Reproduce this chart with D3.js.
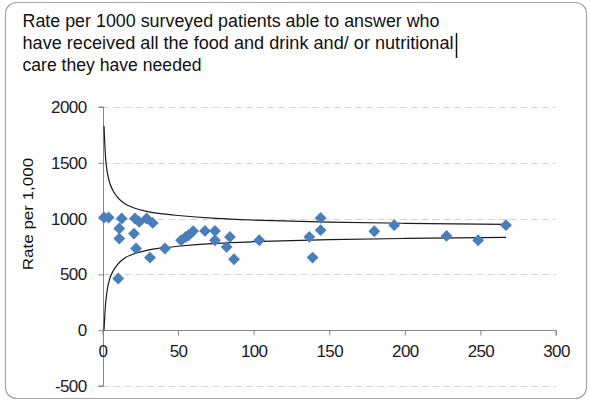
<!DOCTYPE html>
<html>
<head>
<meta charset="utf-8">
<script src="https://cdn.jsdelivr.net/npm/d3@7"></script>
<style>
  html, body { margin: 0; padding: 0; background: #fff; }
  svg { display: block; font-family: "Liberation Sans", Arial, sans-serif; }
</style>
</head>
<body>
<svg id="chart" width="590" height="404"></svg>
<script>
// ---- data ----
const titleLines = [
  "Rate per 1000 surveyed patients able to answer who",
  "have received all the food and drink and/ or nutritional",
  "care they have needed"
];
const yAxisTitle = "Rate per 1,000";
const xTicks = [0, 50, 100, 150, 200, 250, 300];
const yTicks = [-500, 0, 500, 1000, 1500, 2000];

// observed trusts: x = number of respondents, y = rate per 1,000
const pointX = [1, 4, 12.7, 11.1, 11.1, 21.5, 24.3, 29.2, 33.2, 20.8, 22.2, 31.4, 41.3,
                52, 55, 57, 60, 67.8, 74.4, 74.4, 82.1, 84.3, 87, 103.7, 10.4,
                136.8, 139, 144.3, 144.3, 179.8, 193, 227.6, 248.5, 266.9];
const pointY = [1010, 1010, 1001, 911, 821, 1001, 970, 1001, 961, 866, 732, 651, 732,
                806, 835, 851, 888, 890, 890, 806, 746, 836, 636, 806, 463,
                836, 651, 1006, 896, 887, 941, 845, 806, 941];

// control limit curves
const limitX =     [1,    2,    3,    4,    5,    7,    10,   15,   20,   30,   40,   50,   75,   100, 125, 150, 200, 250, 267];
const upperLimit = [1830, 1550, 1430, 1360, 1310, 1250, 1190, 1130, 1100, 1062, 1042, 1028, 1002, 987, 977, 968, 958, 951, 949];
const lowerLimit = [0,    230,  350,  420,  470,  530,  590,  650,  680,  718,  738,  752,  778,  793, 803, 812, 822, 829, 831];

// ---- drawing ----
const svg = d3.select("#chart");

// outer rounded frame
svg.append("rect")
  .attr("x", 5.5).attr("y", 2.5).attr("width", 581).attr("height", 396)
  .attr("rx", 11).attr("ry", 11)
  .attr("fill", "#fff").attr("stroke", "#a6a6a6").attr("stroke-width", 1.2);

// title
const titleWidths = [417, 431, 179];
const titleBase = [26.5, 48.5, 70.5];
titleLines.forEach((t, i) => {
  svg.append("text")
    .attr("x", 22.5).attr("y", titleBase[i])
    .attr("font-size", 17.5).attr("fill", "#111")
    .attr("textLength", titleWidths[i]).attr("lengthAdjust", "spacingAndGlyphs")
    .text(t);
});
// text cursor mark after line 2
svg.append("line")
  .attr("x1", 456.5).attr("x2", 456.5).attr("y1", 33).attr("y2", 58)
  .attr("stroke", "#111").attr("stroke-width", 1.5);

const x = d3.scaleLinear().domain([0, 300]).range([102.5, 556]);
const y = d3.scaleLinear().domain([-500, 2000]).range([386, 107]);

// gridlines
svg.append("g").selectAll("line")
  .data(yTicks.filter(d => d !== 0))
  .join("line")
  .attr("x1", x(0)).attr("x2", x(300))
  .attr("y1", d => Math.round(y(d)) + 0.5).attr("y2", d => Math.round(y(d)) + 0.5)
  .attr("stroke", "#d4d4d4").attr("stroke-width", 1)
  .attr("stroke-dasharray", "7,4");

const plainFmt = d => String(d);

// y axis
const yAxis = svg.append("g")
  .attr("transform", `translate(${Math.round(x(0)) + 0.5},0)`)
  .call(d3.axisLeft(y).tickValues(yTicks).tickSize(5).tickPadding(12).tickFormat(plainFmt));
yAxis.select(".domain").attr("stroke", "#868686").attr("d", `M-5,${y(2000)}H0V${y(-500)}H-5`);
yAxis.selectAll(".tick line").attr("stroke", "#868686");
yAxis.selectAll(".tick text")
  .attr("font-size", 17).attr("letter-spacing", -0.6).attr("fill", "#1a1a1a")
  .attr("font-family", "Liberation Sans, Arial, sans-serif");

// x axis at y = 0
const xAxis = svg.append("g")
  .attr("transform", `translate(0,${Math.round(y(0)) + 0.5})`)
  .call(d3.axisBottom(x).tickValues(xTicks).tickSize(5).tickPadding(9).tickFormat(plainFmt));
xAxis.select(".domain").attr("stroke", "#868686").attr("d", `M${x(0)},0H${x(300)}V5`);
xAxis.selectAll(".tick line").attr("stroke", "#868686");
xAxis.selectAll(".tick text")
  .attr("font-size", 17).attr("letter-spacing", -0.6).attr("fill", "#1a1a1a")
  .attr("font-family", "Liberation Sans, Arial, sans-serif");

// y axis title
svg.append("text")
  .attr("transform", `translate(33,214) scale(0.85,1) rotate(-90)`)
  .attr("text-anchor", "middle")
  .attr("font-size", 17).attr("fill", "#111")
  .text(yAxisTitle);

// limit lines
const lineGen = d3.line().x(d => x(d[0])).y(d => y(d[1])).curve(d3.curveMonotoneX);
[upperLimit, lowerLimit].forEach(arr => {
  svg.append("path")
    .attr("d", lineGen(limitX.map((v, i) => [v, arr[i]])))
    .attr("fill", "none").attr("stroke", "#1a1a1a").attr("stroke-width", 1.2);
});

// points (diamonds)
const diamond = d3.symbol().type(d3.symbolSquare).size(70);
svg.append("g").selectAll("path")
  .data(pointX.map((v, i) => [v, pointY[i]]))
  .join("path")
  .attr("d", diamond)
  .attr("transform", d => `translate(${x(d[0])},${y(d[1])}) rotate(45)`)
  .attr("fill", "#4a7ebb");
</script>
</body>
</html>
